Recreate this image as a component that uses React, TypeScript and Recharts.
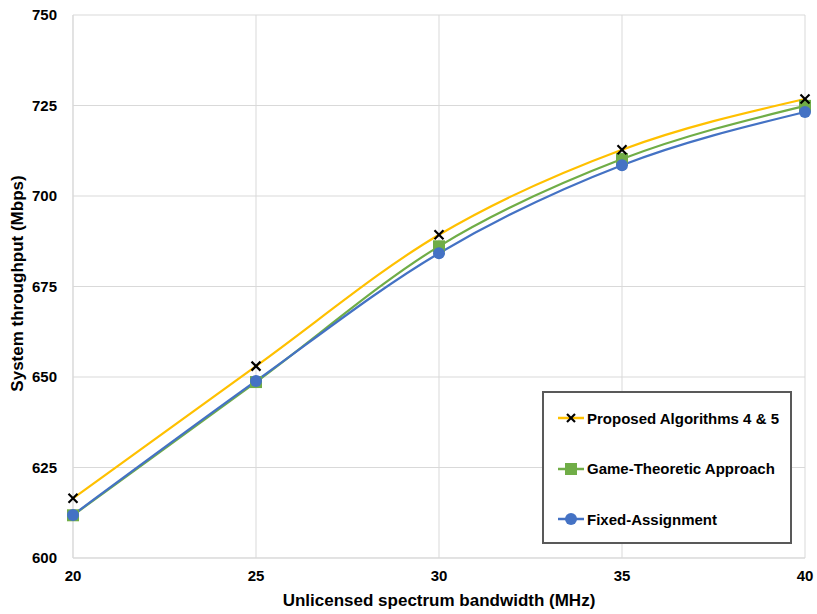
import {
  LineChart,
  Line,
  XAxis,
  YAxis,
  CartesianGrid,
} from "recharts";

const bandwidth = [20, 25, 30, 35, 40];
const proposed = [616.5, 653, 689.3, 712.8, 726.8];
const gameTheoretic = [611.8, 648.6, 686.1, 710.2, 724.9];
const fixedAssignment = [611.9, 648.9, 684.2, 708.5, 723.2];
const yTicks = [600, 625, 650, 675, 700, 725, 750];

const data = bandwidth.map((bw, i) => ({
  bw,
  proposed: proposed[i],
  game: gameTheoretic[i],
  fixed: fixedAssignment[i],
}));

const YELLOW = "#ffc000";
const GREEN = "#70ad47";
const BLUE = "#4472c4";
const FONT = "'Liberation Sans', Arial, sans-serif";

const CrossDot = (props: any) => {
  const { cx, cy } = props;
  if (cx == null || cy == null) return null;
  const s = 4.5;
  return (
    <g>
      <line x1={cx - s} y1={cy - s} x2={cx + s} y2={cy + s} stroke="#000" strokeWidth={2.2} />
      <line x1={cx - s} y1={cy + s} x2={cx + s} y2={cy - s} stroke="#000" strokeWidth={2.2} />
    </g>
  );
};

const SquareDot = (props: any) => {
  const { cx, cy } = props;
  if (cx == null || cy == null) return null;
  return <rect x={cx - 6} y={cy - 6} width={12} height={12} fill={GREEN} />;
};

const CircleDot = (props: any) => {
  const { cx, cy } = props;
  if (cx == null || cy == null) return null;
  return <circle cx={cx} cy={cy} r={6} fill={BLUE} />;
};

const legendItems = [
  { label: "Proposed Algorithms 4 & 5", color: YELLOW, marker: "x" },
  { label: "Game-Theoretic Approach", color: GREEN, marker: "sq" },
  { label: "Fixed-Assignment", color: BLUE, marker: "c" },
];

const LegendBox = () => (
  <div
    style={{
      position: "absolute",
      left: 542,
      top: 391,
      width: 246,
      height: 149,
      border: "2px solid #595959",
      background: "#fff",
      fontFamily: FONT,
      fontWeight: "bold",
      fontSize: 15,
      color: "#000",
    }}
  >
    {legendItems.map((it, i) => (
      <div
        key={it.label}
        style={{
          position: "absolute",
          left: 14,
          top: 15 + i * 50.5,
          display: "flex",
          alignItems: "center",
          height: 20,
          whiteSpace: "nowrap",
        }}
      >
        <svg width={26} height={20}>
          <line x1={0} y1={10} x2={26} y2={10} stroke={it.color} strokeWidth={2.5} />
          {it.marker === "x" && (
            <g>
              <line x1={9} y1={6} x2={17} y2={14} stroke="#000" strokeWidth={2.2} />
              <line x1={9} y1={14} x2={17} y2={6} stroke="#000" strokeWidth={2.2} />
            </g>
          )}
          {it.marker === "sq" && <rect x={7} y={4} width={12} height={12} fill={GREEN} />}
          {it.marker === "c" && <circle cx={13} cy={10} r={6} fill={BLUE} />}
        </svg>
        <span style={{ marginLeft: 3 }}>{it.label}</span>
      </div>
    ))}
  </div>
);

export default function App() {
  return (
    <div style={{ position: "absolute", left: 0, top: 0, width: 817, height: 614, background: "#fff" }}>
      <LineChart
        width={817}
        height={614}
        data={data}
        margin={{ top: 15, right: 12, bottom: 0, left: 0 }}
      >
        <CartesianGrid stroke="#d9d9d9" strokeWidth={1} />
        <XAxis
          dataKey="bw"
          type="number"
          domain={[20, 40]}
          ticks={bandwidth}
          height={56}
          axisLine={{ stroke: "#d9d9d9" }}
          tickLine={false}
          tick={{ fill: "#000", fontSize: 15, fontWeight: "bold", fontFamily: FONT }}
          tickMargin={6}
          label={{
            value: "Unlicensed spectrum bandwidth (MHz)",
            position: "insideBottom",
            offset: 8,
            style: { fill: "#000", fontSize: 17, fontWeight: "bold", fontFamily: FONT },
          }}
        />
        <YAxis
          type="number"
          domain={[600, 750]}
          ticks={yTicks}
          width={73}
          axisLine={{ stroke: "#d9d9d9" }}
          tickLine={false}
          tick={{ fill: "#000", fontSize: 15, fontWeight: "bold", fontFamily: FONT }}
          tickMargin={10}
          label={{
            value: "System throughput (Mbps)",
            angle: -90,
            position: "insideLeft",
            offset: 17,
            dy: -3,
            style: {
              fill: "#000",
              fontSize: 17,
              fontWeight: "bold",
              fontFamily: FONT,
              textAnchor: "middle",
            },
          }}
        />
        <Line
          type="monotone"
          dataKey="proposed"
          stroke={YELLOW}
          strokeWidth={2.2}
          dot={false}
          isAnimationActive={false}
        />
        <Line
          type="monotone"
          dataKey="game"
          stroke={GREEN}
          strokeWidth={2.2}
          dot={<SquareDot />}
          isAnimationActive={false}
        />
        <Line
          type="monotone"
          dataKey="fixed"
          stroke={BLUE}
          strokeWidth={2.2}
          dot={<CircleDot />}
          isAnimationActive={false}
        />
        <Line
          type="monotone"
          dataKey="proposed"
          stroke="none"
          dot={<CrossDot />}
          legendType="none"
          isAnimationActive={false}
        />
      </LineChart>
      <LegendBox />
    </div>
  );
}
